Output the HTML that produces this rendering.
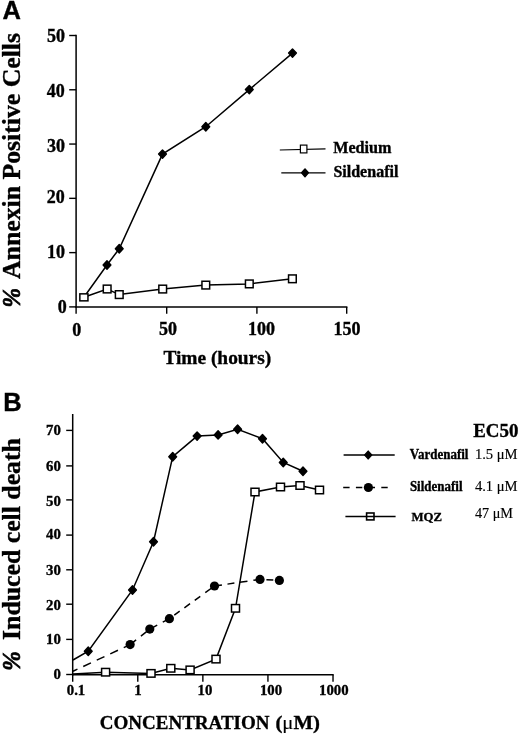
<!DOCTYPE html><html><head><meta charset="utf-8"><title>Figure</title>
<style>html,body{margin:0;padding:0;background:#fff}svg{display:block}text{stroke:#000;stroke-width:.35px;font-family:"Liberation Serif","Times New Roman",serif;font-weight:bold;fill:#000}.s{font-family:"Liberation Sans",Arial,sans-serif}.r{font-weight:normal;stroke-width:.15px}</style></head><body>
<svg width="520" height="735" viewBox="0 0 520 735">
<rect width="520" height="735" fill="#fff"/>
<text x="2.6" y="19.2" font-size="25.5" text-anchor="start" class="s">A</text>
<line x1="76.1" y1="34.8" x2="76.1" y2="307.6" stroke="#000" stroke-width="1.5"/>
<line x1="75.4" y1="306.9" x2="347.4" y2="306.9" stroke="#000" stroke-width="1.5"/>
<line x1="69.2" y1="306.9" x2="76.1" y2="306.9" stroke="#000" stroke-width="1.4"/>
<text x="66.8" y="312.7" font-size="18" text-anchor="end">0</text>
<line x1="69.2" y1="252.62" x2="76.1" y2="252.62" stroke="#000" stroke-width="1.4"/>
<text x="65" y="257.8" font-size="18" text-anchor="end">10</text>
<line x1="69.2" y1="198.34" x2="76.1" y2="198.34" stroke="#000" stroke-width="1.4"/>
<text x="64.7" y="202.5" font-size="18" text-anchor="end">20</text>
<line x1="69.2" y1="144.06" x2="76.1" y2="144.06" stroke="#000" stroke-width="1.4"/>
<text x="65" y="151.9" font-size="18" text-anchor="end">30</text>
<line x1="69.2" y1="89.78" x2="76.1" y2="89.78" stroke="#000" stroke-width="1.4"/>
<text x="64.8" y="97" font-size="18" text-anchor="end">40</text>
<line x1="69.2" y1="35.5" x2="76.1" y2="35.5" stroke="#000" stroke-width="1.4"/>
<text x="65" y="41.5" font-size="18" text-anchor="end">50</text>
<line x1="76.1" y1="306.9" x2="76.1" y2="313.8" stroke="#000" stroke-width="1.4"/>
<text x="76.65" y="335.6" font-size="18" text-anchor="middle">0</text>
<line x1="166.7" y1="306.9" x2="166.7" y2="313.8" stroke="#000" stroke-width="1.4"/>
<text x="168" y="335" font-size="18" text-anchor="middle">50</text>
<line x1="256.9" y1="306.9" x2="256.9" y2="313.8" stroke="#000" stroke-width="1.4"/>
<text x="261.6" y="335" font-size="18" text-anchor="middle">100</text>
<line x1="346.7" y1="306.9" x2="346.7" y2="313.8" stroke="#000" stroke-width="1.4"/>
<text x="347.1" y="335" font-size="18" text-anchor="middle">150</text>
<text x="163.4" y="363.7" font-size="19" text-anchor="start" textLength="107.8" lengthAdjust="spacingAndGlyphs">Time (hours)</text>
<text transform="translate(20.1,307.6) rotate(-90)" font-size="26" font-style="italic" textLength="19.5" lengthAdjust="spacingAndGlyphs" style="stroke-width:.7px">%</text>
<text transform="translate(20.1,279) rotate(-90)" font-size="25.6" textLength="246" lengthAdjust="spacingAndGlyphs">Annexin Positive Cells</text>
<polyline points="83.9,297.3 107,265 119.25,248.75 162.5,154.1 205.8,126.7 249.3,89.6 292.5,53.1" fill="none" stroke="#000" stroke-width="1.5"/>
<polyline points="83.9,297.3 107.15,289 119.25,294.6 162.7,289.05 205.8,285.1 249.3,283.9 292.4,278.8" fill="none" stroke="#000" stroke-width="1.5"/>
<path d="M103.1 265L107 260.8L110.9 265L107 269.2Z" fill="#000" stroke="#000" stroke-width="1.4" stroke-linejoin="round"/>
<path d="M115.35 248.75L119.25 244.55L123.15 248.75L119.25 252.95Z" fill="#000" stroke="#000" stroke-width="1.4" stroke-linejoin="round"/>
<path d="M158.6 154.1L162.5 149.9L166.4 154.1L162.5 158.3Z" fill="#000" stroke="#000" stroke-width="1.4" stroke-linejoin="round"/>
<path d="M201.9 126.7L205.8 122.5L209.7 126.7L205.8 130.9Z" fill="#000" stroke="#000" stroke-width="1.4" stroke-linejoin="round"/>
<path d="M245.4 89.6L249.3 85.4L253.2 89.6L249.3 93.8Z" fill="#000" stroke="#000" stroke-width="1.4" stroke-linejoin="round"/>
<path d="M288.6 53.1L292.5 48.9L296.4 53.1L292.5 57.3Z" fill="#000" stroke="#000" stroke-width="1.4" stroke-linejoin="round"/>
<rect x="79.85" y="293.85" width="8.1" height="7" fill="#fff" stroke="#000" stroke-width="1.5"/>
<rect x="103.3" y="285.15" width="7.7" height="7.7" fill="#fff" stroke="#000" stroke-width="1.5"/>
<rect x="115.4" y="290.75" width="7.7" height="7.7" fill="#fff" stroke="#000" stroke-width="1.5"/>
<rect x="158.85" y="285.2" width="7.7" height="7.7" fill="#fff" stroke="#000" stroke-width="1.5"/>
<rect x="201.95" y="281.25" width="7.7" height="7.7" fill="#fff" stroke="#000" stroke-width="1.5"/>
<rect x="245.45" y="280.05" width="7.7" height="7.7" fill="#fff" stroke="#000" stroke-width="1.5"/>
<rect x="288.55" y="274.95" width="7.7" height="7.7" fill="#fff" stroke="#000" stroke-width="1.5"/>
<line x1="279.8" y1="150" x2="325.5" y2="148.8" stroke="#000" stroke-width="1.25"/>
<rect x="300.4" y="145.1" width="6.5" height="7.8" fill="#fff" stroke="#000" stroke-width="1.2"/>
<line x1="281.3" y1="172.8" x2="325.5" y2="172.8" stroke="#000" stroke-width="1.25"/>
<path d="M301.6 172.8L305 168.9L308.4 172.8L305 176.7Z" fill="#000" stroke="#000" stroke-width="1.4" stroke-linejoin="round"/>
<text x="333.2" y="152.7" font-size="16" text-anchor="start" textLength="58.3" lengthAdjust="spacingAndGlyphs">Medium</text>
<text x="333.4" y="176.6" font-size="16" text-anchor="start" textLength="65" lengthAdjust="spacingAndGlyphs">Sildenafil</text>
<text x="3.2" y="410.6" font-size="25.5" text-anchor="start" class="s">B</text>
<line x1="72.7" y1="414" x2="72.7" y2="675.5" stroke="#000" stroke-width="1.5"/>
<line x1="72" y1="674.8" x2="333.7" y2="674.8" stroke="#000" stroke-width="1.5"/>
<line x1="66.2" y1="674.5" x2="72.7" y2="674.5" stroke="#000" stroke-width="1.4"/>
<text x="60.9" y="679.2" font-size="14.8" text-anchor="end">0</text>
<line x1="66.2" y1="639.4" x2="72.7" y2="639.4" stroke="#000" stroke-width="1.4"/>
<text x="60.9" y="644.3" font-size="14.8" text-anchor="end">10</text>
<line x1="66.2" y1="604.2" x2="72.7" y2="604.2" stroke="#000" stroke-width="1.4"/>
<text x="60.9" y="610" font-size="14.8" text-anchor="end">20</text>
<line x1="66.2" y1="569.8" x2="72.7" y2="569.8" stroke="#000" stroke-width="1.4"/>
<text x="60.9" y="574.5" font-size="14.8" text-anchor="end">30</text>
<line x1="66.2" y1="535.1" x2="72.7" y2="535.1" stroke="#000" stroke-width="1.4"/>
<text x="60.9" y="539.3" font-size="14.8" text-anchor="end">40</text>
<line x1="66.2" y1="499.9" x2="72.7" y2="499.9" stroke="#000" stroke-width="1.4"/>
<text x="60.9" y="505.8" font-size="14.8" text-anchor="end">50</text>
<line x1="66.2" y1="465.9" x2="72.7" y2="465.9" stroke="#000" stroke-width="1.4"/>
<text x="60.9" y="470.6" font-size="14.8" text-anchor="end">60</text>
<line x1="66.2" y1="430.4" x2="72.7" y2="430.4" stroke="#000" stroke-width="1.4"/>
<text x="60.9" y="435.4" font-size="14.8" text-anchor="end">70</text>
<line x1="72.7" y1="674.8" x2="72.7" y2="681.8" stroke="#000" stroke-width="1.4"/>
<text x="76" y="694.8" font-size="14.8" text-anchor="middle">0.1</text>
<line x1="137.78" y1="674.8" x2="137.78" y2="681.8" stroke="#000" stroke-width="1.4"/>
<text x="138" y="694.8" font-size="14.8" text-anchor="middle">1</text>
<line x1="202.86" y1="674.8" x2="202.86" y2="681.8" stroke="#000" stroke-width="1.4"/>
<text x="205" y="694.8" font-size="14.8" text-anchor="middle">10</text>
<line x1="267.94" y1="674.8" x2="267.94" y2="681.8" stroke="#000" stroke-width="1.4"/>
<text x="271" y="694.8" font-size="14.8" text-anchor="middle">100</text>
<line x1="333.02" y1="674.8" x2="333.02" y2="681.8" stroke="#000" stroke-width="1.4"/>
<text x="333.8" y="694.8" font-size="14.8" text-anchor="middle">1000</text>
<text x="99.8" y="729" font-size="19.7" text-anchor="start" textLength="169.7" lengthAdjust="spacingAndGlyphs">CONCENTRATION</text>
<text x="275.4" y="729" font-size="19.7" textLength="44.6" lengthAdjust="spacingAndGlyphs">(<tspan class="r">μ</tspan>M)</text>
<text transform="translate(20.1,670.7) rotate(-90)" font-size="26" font-style="italic" textLength="19.5" lengthAdjust="spacingAndGlyphs" style="stroke-width:.7px">%</text>
<text transform="translate(20.1,639.9) rotate(-90)" font-size="25.6" textLength="201.8" lengthAdjust="spacingAndGlyphs">Induced cell death</text>
<polyline points="73,660 88.25,651.25 132.5,590 153.5,541.7 172.7,456.7 197.1,436.1 218.1,434.9 237.6,429.3 262.5,438.75 283.25,462.5 303,471.25" fill="none" stroke="#000" stroke-width="1.5"/>
<polyline points="73,671.25 130.15,644.6" fill="none" stroke="#000" stroke-width="1.5" stroke-dasharray="4.9 6.4 8.5 6.4 8.5 6.4 8.5 6.4 20"/>
<polyline points="130.15,644.6 149.8,629.1" fill="none" stroke="#000" stroke-width="1.5" stroke-dasharray="7.6 6.1 20"/>
<polyline points="149.8,629.1 169.4,618.65" fill="none" stroke="#000" stroke-width="1.5" stroke-dasharray="8.4 6.3 20"/>
<polyline points="169.4,618.65 214.5,586" fill="none" stroke="#000" stroke-width="1.5" stroke-dasharray="0 6 6.7 5.8 7 5.8 6.8 6.2 20"/>
<polyline points="214.5,586 260,579.4" fill="none" stroke="#000" stroke-width="1.5" stroke-dasharray="7.5 5.6 7 5.3 7.9 6 20"/>
<polyline points="260,579.4 279.4,580.4" fill="none" stroke="#000" stroke-width="1.5" stroke-dasharray="0 6.4 6.9 20"/>
<polyline points="73,674 105.6,672.2 151,673.4 170.8,668.3 190.1,669.9 216,659.1 235.5,608.3 255,492 280.5,487 300,485.5 319.5,490" fill="none" stroke="#000" stroke-width="1.5"/>
<path d="M84.35 651.25L88.25 647.05L92.15 651.25L88.25 655.45Z" fill="#000" stroke="#000" stroke-width="1.4" stroke-linejoin="round"/>
<path d="M128.6 590L132.5 585.8L136.4 590L132.5 594.2Z" fill="#000" stroke="#000" stroke-width="1.4" stroke-linejoin="round"/>
<path d="M149.6 541.7L153.5 537.5L157.4 541.7L153.5 545.9Z" fill="#000" stroke="#000" stroke-width="1.4" stroke-linejoin="round"/>
<path d="M168.8 456.7L172.7 452.5L176.6 456.7L172.7 460.9Z" fill="#000" stroke="#000" stroke-width="1.4" stroke-linejoin="round"/>
<path d="M193.2 436.1L197.1 431.9L201 436.1L197.1 440.3Z" fill="#000" stroke="#000" stroke-width="1.4" stroke-linejoin="round"/>
<path d="M214.2 434.9L218.1 430.7L222 434.9L218.1 439.1Z" fill="#000" stroke="#000" stroke-width="1.4" stroke-linejoin="round"/>
<path d="M233.7 429.3L237.6 425.1L241.5 429.3L237.6 433.5Z" fill="#000" stroke="#000" stroke-width="1.4" stroke-linejoin="round"/>
<path d="M258.6 438.75L262.5 434.55L266.4 438.75L262.5 442.95Z" fill="#000" stroke="#000" stroke-width="1.4" stroke-linejoin="round"/>
<path d="M279.35 462.5L283.25 458.3L287.15 462.5L283.25 466.7Z" fill="#000" stroke="#000" stroke-width="1.4" stroke-linejoin="round"/>
<path d="M299.1 471.25L303 467.05L306.9 471.25L303 475.45Z" fill="#000" stroke="#000" stroke-width="1.4" stroke-linejoin="round"/>
<circle cx="130.15" cy="644.6" r="4.6" fill="#000"/>
<circle cx="149.8" cy="629.1" r="4.6" fill="#000"/>
<circle cx="169.4" cy="618.65" r="4.6" fill="#000"/>
<circle cx="214.5" cy="586" r="4.6" fill="#000"/>
<circle cx="260" cy="579.4" r="4.6" fill="#000"/>
<circle cx="279.4" cy="580.4" r="4.6" fill="#000"/>
<rect x="101.6" y="668.45" width="8" height="7.5" fill="#fff" stroke="#000" stroke-width="1.5"/>
<rect x="147" y="669.65" width="8" height="7.5" fill="#fff" stroke="#000" stroke-width="1.5"/>
<rect x="166.8" y="664.55" width="8" height="7.5" fill="#fff" stroke="#000" stroke-width="1.5"/>
<rect x="186.1" y="666.15" width="8" height="7.5" fill="#fff" stroke="#000" stroke-width="1.5"/>
<rect x="212" y="655.35" width="8" height="7.5" fill="#fff" stroke="#000" stroke-width="1.5"/>
<rect x="231.5" y="604.55" width="8" height="7.5" fill="#fff" stroke="#000" stroke-width="1.5"/>
<rect x="251" y="488.25" width="8" height="7.5" fill="#fff" stroke="#000" stroke-width="1.5"/>
<rect x="276.5" y="483.25" width="8" height="7.5" fill="#fff" stroke="#000" stroke-width="1.5"/>
<rect x="296" y="481.75" width="8" height="7.5" fill="#fff" stroke="#000" stroke-width="1.5"/>
<rect x="315.5" y="486.25" width="8" height="7.5" fill="#fff" stroke="#000" stroke-width="1.5"/>
<text x="473.2" y="437" font-size="19.5" text-anchor="start" textLength="45.2" lengthAdjust="spacingAndGlyphs">EC50</text>
<line x1="343.6" y1="455" x2="394.7" y2="455" stroke="#000" stroke-width="1.5"/>
<path d="M364.7 455L368.2 451.1L371.7 455L368.2 458.9Z" fill="#000" stroke="#000" stroke-width="1.4" stroke-linejoin="round"/>
<line x1="343.2" y1="487.5" x2="388.3" y2="487.5" stroke="#000" stroke-width="1.4" stroke-dasharray="6.4 6.3"/>
<circle cx="368.4" cy="487.5" r="4.6" fill="#000"/>
<line x1="345.4" y1="516.4" x2="395.6" y2="516.4" stroke="#000" stroke-width="1.5"/>
<rect x="366.6" y="513" width="7.4" height="6.9" fill="none" stroke="#000" stroke-width="1.6"/>
<text x="409.7" y="459.4" font-size="14" text-anchor="start" textLength="58.8" lengthAdjust="spacingAndGlyphs">Vardenafil</text>
<text x="409.9" y="490.9" font-size="14" text-anchor="start" textLength="52.6" lengthAdjust="spacingAndGlyphs">Sildenafil</text>
<text x="411.5" y="520.9" font-size="13.5" text-anchor="start" textLength="30.6" lengthAdjust="spacingAndGlyphs">MQZ</text>
<text x="474.9" y="459.3" font-size="14.5" text-anchor="start" class="r" textLength="42.7" lengthAdjust="spacingAndGlyphs">1.5 μM</text>
<text x="474.9" y="491" font-size="14.5" text-anchor="start" class="r" textLength="42.7" lengthAdjust="spacingAndGlyphs">4.1 μM</text>
<text x="474.9" y="517.7" font-size="14.5" text-anchor="start" class="r" textLength="38.1" lengthAdjust="spacingAndGlyphs">47 μM</text>
</svg></body></html>
